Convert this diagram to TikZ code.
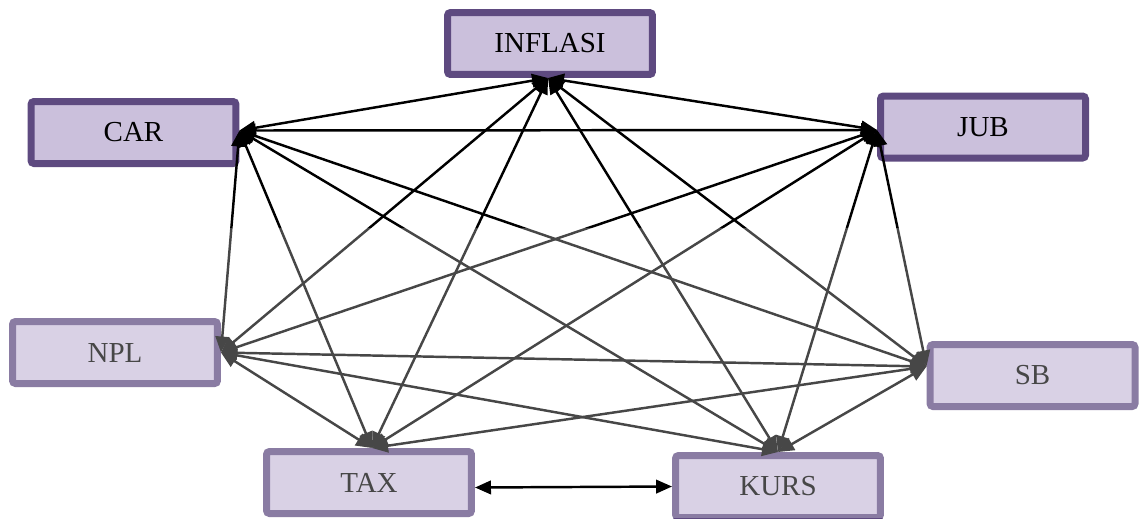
\documentclass[tikz,border=0pt]{standalone}
\usepackage{fontspec}
\setmainfont{Liberation Serif}
\usetikzlibrary{arrows.meta,shadows}
\definecolor{boxfill}{HTML}{CBC0DC}
\definecolor{boxline}{HTML}{5E4A80}

\begin{document}
\begin{tikzpicture}[x=0.02cm, y=-0.02cm,
	every node/.style={font=\fontsize{16.5}{20}\selectfont},
	>={Triangle[length=0.32cm, width=0.27cm]},
	var/.style={draw=boxline, fill=boxfill, line width=0.14cm, rounded corners=0.06cm,
		minimum width=4.1cm, minimum height=1.24cm, inner sep=0pt,
		drop shadow={shadow xshift=0.05cm, shadow yshift=-0.06cm, opacity=0.25}},
	link/.style={<->, line width=1.4pt}]
	\useasboundingbox (0,0) rectangle (1141,518);
	% variables
	\node[var] (inflasi) at (550,43.5) {INFLASI};
	\node[var] (car) at (133.5,132.5) {CAR};
	\node[var] (jub) at (983,127) {JUB};
	\node[var] (npl) at (115,352.5) {NPL};
	\node[var] (sb) at (1032.5,375.5) {SB};
	\node[var] (tax) at (369,482.5) {TAX};
	\node[var] (kurs) at (778,486.5) {KURS};
	% meeting points of the arrows
	\coordinate (inflasi-p) at ([xshift=-0.04cm]inflasi.south);
	\coordinate (car-p) at ([yshift=0.04cm]car.east);
	\coordinate (jub-p) at ([yshift=-0.06cm]jub.west);
	\coordinate (npl-p) at (npl.east);
	\coordinate (sb-p) at ([yshift=0.18cm]sb.west);
	\coordinate (tax-p) at ([xshift=0.06cm]tax.north);
	\coordinate (kurs-p) at (kurs.north);
	% all pairs
	\draw[link] (inflasi-p) -- (car-p);
	\draw[link] (inflasi-p) -- (jub-p);
	\draw[link] (inflasi-p) -- (npl-p);
	\draw[link] (inflasi-p) -- (sb-p);
	\draw[link] (inflasi-p) -- (tax-p);
	\draw[link] (inflasi-p) -- (kurs-p);
	\draw[link] (car-p) -- (jub-p);
	\draw[link] (car-p) -- (npl-p);
	\draw[link] (car-p) -- (sb-p);
	\draw[link] (car-p) -- (tax-p);
	\draw[link] (car-p) -- (kurs-p);
	\draw[link] (jub-p) -- (npl-p);
	\draw[link] (jub-p) -- (sb-p);
	\draw[link] (jub-p) -- (tax-p);
	\draw[link] (jub-p) -- (kurs-p);
	\draw[link] (npl-p) -- (sb-p);
	\draw[link] (npl-p) -- (tax-p);
	\draw[link] (npl-p) -- (kurs-p);
	\draw[link] (sb-p) -- (tax-p);
	\draw[link] (sb-p) -- (kurs-p);
	% lower part is faded
	\fill[white, opacity=0.28] (0,228) rectangle (1141,518);
	\draw[link] ([yshift=-0.1cm]tax.east) -- (kurs.west);
\end{tikzpicture}
\end{document}
